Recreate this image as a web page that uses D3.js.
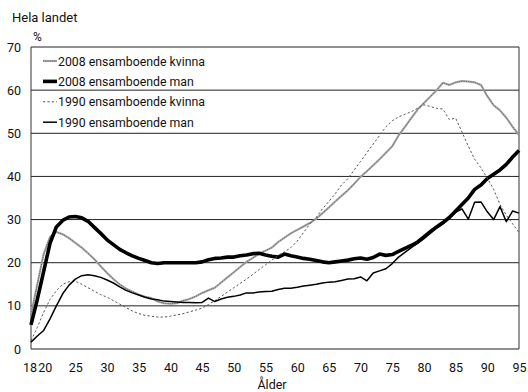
<!DOCTYPE html>
<html>
<head>
<meta charset="utf-8">
<script src="https://cdn.jsdelivr.net/npm/d3@7"></script>
<style>
  html, body { margin: 0; padding: 0; background: #fff; }
  svg { display: block; }
  text { font-family: Roboto, "Noto Sans", sans-serif; fill: #111; }
</style>
</head>
<body>
<svg id="chart" width="528" height="392"></svg>
<script>
// Ålder 18–95
const ages = d3.range(18, 96);

const kvinna2008 = [8, 15, 22, 26, 27.1, 26.6, 25.7, 24.6, 23.5, 22.2,
  20.8, 19.2, 17.6, 16.2, 15, 14, 13.3, 12.6, 12.1, 11.8,
  11, 10.6, 10.5, 10.6, 11.2, 11.6, 12.2, 13, 13.6, 14.2,
  15.4, 16.6, 17.8, 19, 20.2, 21.1, 22.1, 22.8, 23.5, 24.8,
  25.8, 26.8, 27.6, 28.4, 29.2, 30.2, 31.5, 32.8, 34.2, 35.5,
  36.8, 38.3, 39.9, 41.2, 42.6, 44, 45.5, 47, 49.5, 51.5,
  53.5, 55.5, 57, 58.5, 60, 61.7, 61.2, 61.8, 62.1, 62,
  61.8, 61.2, 58.6, 56.5, 55.3, 53.6, 51.5, 49.6];

const man2008 = [5.6, 11.5, 18, 24.5, 28.3, 29.8, 30.6, 30.7, 30.4, 29.6,
  28.2, 26.8, 25.3, 24.2, 23.1, 22.3, 21.6, 21, 20.5, 20,
  19.8, 20, 20, 20, 20, 20, 20, 20.2, 20.7, 21,
  21.1, 21.3, 21.3, 21.6, 21.8, 22.1, 22.2, 21.8, 21.5, 21.3,
  22, 21.6, 21.3, 21, 20.8, 20.5, 20.2, 20, 20.2, 20.4,
  20.6, 20.9, 21.1, 20.8, 21.2, 22, 21.7, 21.9, 22.6, 23.3,
  24, 24.8, 26, 27.2, 28.3, 29.3, 30.5, 32, 33.5, 35,
  37, 38, 39.5, 40.5, 41.5, 42.8, 44.5, 46];

const kvinna1990 = [2, 5, 8.5, 11.5, 13.5, 15, 15.6, 15.7, 15, 14.2,
  13.4, 12.6, 12, 11.2, 10.4, 9.6, 8.8, 8.2, 7.8, 7.6,
  7.4, 7.4, 7.6, 7.9, 8.2, 8.6, 9, 9.5, 10.3, 11.2,
  12.2, 13.2, 14.2, 15.2, 16.2, 17.3, 18.4, 19.5, 20.6, 21.7,
  22.5, 23.5, 25, 27, 29, 30.5, 32.5, 34.2, 36, 38,
  39.5, 41.5, 43.5, 45.5, 47.5, 49.5, 51.5, 52.9, 53.8, 54.4,
  55, 55.8, 56.6, 56.2, 55.8, 55.6, 53.2, 53.5, 50.3, 47,
  44, 42, 39.6, 37, 33.5, 31, 29, 27];

const man1990 = [1.6, 3, 4.3, 7, 10, 12.8, 14.8, 16.2, 17, 17.2,
  17, 16.6, 16, 15.3, 14.4, 13.6, 13, 12.5, 12, 11.6,
  11.4, 11.1, 11, 10.9, 10.8, 10.8, 10.7, 10.8, 11.8, 11,
  11.6, 12, 12.2, 12.5, 13, 13, 13.2, 13.3, 13.4, 13.8,
  14.1, 14.1, 14.3, 14.6, 14.8, 15, 15.3, 15.5, 15.6, 15.9,
  16.2, 16.3, 16.7, 15.8, 17.6, 18.1, 18.6, 19.8, 21.3, 22.4,
  23.5, 24.5, 25.6, 26.8, 28, 29, 30.2, 31.7, 32.5, 30.1,
  34, 34.1, 31.8, 30, 33, 29.5, 32, 31.5];

const xTicks = [18, 20, 25, 30, 35, 40, 45, 50, 55, 60, 65, 70, 75, 80, 85, 90, 95];
const yTicks = [0, 10, 20, 30, 40, 50, 60, 70];

const seriesNames = ["2008 ensamboende kvinna", "2008 ensamboende man",
                     "1990 ensamboende kvinna", "1990 ensamboende man"];
const seriesValues = [kvinna2008, man2008, kvinna1990, man1990];

// each series is drawn as one or more stroke layers
const styles = [
  [{ stroke: "#a6a6a6", width: 2.1, dash: null },
   { stroke: "#5e5e5e", width: 1, dash: "1,1.3" }],
  [{ stroke: "#000", width: 3.6, dash: null }],
  [{ stroke: "#555", width: 1, dash: "2.2,2.2" }],
  [{ stroke: "#000", width: 1.5, dash: null }]
];

const svg = d3.select("#chart");
const margin = { left: 31, top: 47, right: 9, bottom: 43 };
const W = 528 - margin.left - margin.right;
const H = 392 - margin.top - margin.bottom;

const x = d3.scaleLinear().domain([18, 95]).range([0, W]);
const y = d3.scaleLinear().domain([0, 70]).range([H, 0]);

const g = svg.append("g").attr("transform", `translate(${margin.left},${margin.top})`);

// horizontal gridlines
g.append("g")
  .selectAll("line")
  .data(yTicks)
  .join("line")
  .attr("x1", 0).attr("x2", W)
  .attr("y1", d => y(d)).attr("y2", d => y(d))
  .attr("stroke", "#222").attr("stroke-width", 1);

// frame sides
g.append("line").attr("x1", 0).attr("x2", 0).attr("y1", 0).attr("y2", H)
  .attr("stroke", "#333").attr("stroke-width", 1);
g.append("line").attr("x1", W).attr("x2", W).attr("y1", 0).attr("y2", H)
  .attr("stroke", "#333").attr("stroke-width", 1);

// y axis labels
const yAxis = d3.axisLeft(y).tickValues(yTicks).tickSize(0).tickPadding(10);
g.append("g").call(yAxis)
  .call(s => s.select(".domain").remove())
  .selectAll("text")
  .attr("font-size", 12.5)
  .style("font-family", "Roboto, sans-serif");

// x axis labels; the first two sit close together
const xAxis = d3.axisBottom(x).tickValues(xTicks).tickSize(0).tickPadding(14);
g.append("g").attr("transform", `translate(0,${H})`).call(xAxis)
  .call(s => s.select(".domain").remove())
  .selectAll("text")
  .attr("font-size", 12.5)
  .style("font-family", "Roboto, sans-serif")
  .attr("dx", d => d === 18 ? -1.5 : d === 20 ? 1.2 : 0);

// series lines
const line = d3.line()
  .x((d, i) => x(ages[i]))
  .y(d => y(d));

seriesValues.forEach((vals, i) => {
  styles[i].forEach(st => {
    g.append("path")
      .datum(vals)
      .attr("fill", "none")
      .attr("stroke", st.stroke)
      .attr("stroke-width", st.width)
      .attr("stroke-linejoin", "round")
      .attr("stroke-dasharray", st.dash)
      .attr("d", line);
  });
});

// legend
const legend = svg.append("g").attr("transform", "translate(43,61)");
seriesNames.forEach((name, i) => {
  const row = legend.append("g").attr("transform", `translate(0,${i * 20.4})`);
  styles[i].forEach(st => {
    row.append("line")
      .attr("x1", 0).attr("x2", 14).attr("y1", 0).attr("y2", 0)
      .attr("stroke", st.stroke)
      .attr("stroke-width", st.width)
      .attr("stroke-dasharray", st.dash);
  });
  row.append("text")
    .attr("x", 15).attr("y", 4.5)
    .attr("font-size", 12.3)
    .text(name);
});

// titles
svg.append("text").attr("x", 12).attr("y", 22).attr("font-size", 13).text("Hela landet");
svg.append("text").attr("x", 33).attr("y", 41).attr("font-size", 12).text("%");
svg.append("text").attr("x", 272).attr("y", 389).attr("font-size", 12.5)
  .attr("text-anchor", "middle").text("Ålder");
</script>
</body>
</html>
